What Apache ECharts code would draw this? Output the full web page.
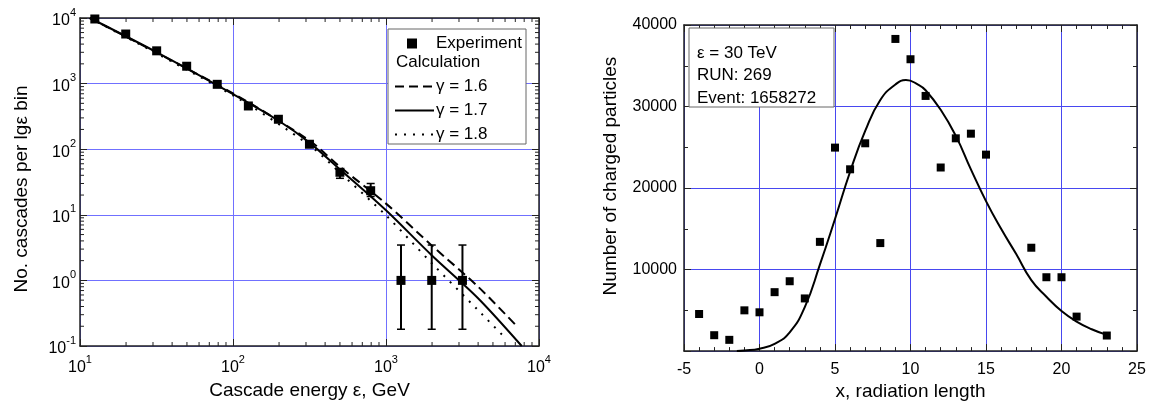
<!DOCTYPE html>
<html>
<head>
<meta charset="utf-8">
<script src="https://cdn.jsdelivr.net/npm/echarts@6/dist/echarts.min.js"></script>
<style>
  html, body { margin: 0; padding: 0; background: #fff; }
  #chart { width: 1152px; height: 406px; }
</style>
</head>
<body>
<div id="chart"></div>
<script>
// left panel: energy spectrum
var expE = [12.5, 19.9, 31.7, 49.8, 78.9, 126, 198, 316, 500, 794, 1253, 1990, 3160];
var expN = [9660, 5700, 3160, 1840, 975, 456, 286, 119, 44.5, 23.3, 1, 1, 1];
var errE = [500, 794, 1253, 1990, 3160];
var errLow = [36, 19, 0.18, 0.18, 0.18];
var errHigh = [49, 30, 3.46, 3.46, 3.46];

var g16E = [11.6, 100, 316, 501, 1000, 1995, 3981, 7244];
var g16N = [10000, 708, 135, 53.7, 14.8, 3.39, 0.81, 0.195];
var g17E = [11.6, 31.6, 100, 200, 316, 501, 1000, 1995, 3981, 7710];
var g17N = [10000, 3020, 692, 269, 126, 49, 11.7, 2.4, 0.54, 0.1];
var g18E = [11.6, 100, 316, 501, 1000, 1995, 3981, 6026];
var g18N = [10000, 661, 115, 43.7, 9.8, 1.82, 0.355, 0.132];

// right panel: longitudinal profile
var xRad = [-4, -3, -2, -1, 0, 1, 2, 3, 4, 5, 6, 7, 8, 9, 10, 11, 12, 13, 14, 15, 18, 19, 20, 21, 23];
var nCharged = [4550, 1950, 1380, 5000, 4760, 7230, 8570, 6460, 13400, 24960, 22300, 25490, 13250,
                38290, 35800, 31300, 22520, 26100, 26670, 24100, 12680, 9060, 9060, 4230, 1910];
var fitX = [-1.5, -1, 0, 1, 2, 3, 4, 5, 6, 7, 8, 9, 9.7, 10.5, 11, 12, 13, 14, 15, 16, 17, 18, 19, 20, 21, 22, 23];
var fitN = [0, 60, 300, 900, 2300, 5400, 10600, 16200, 22000, 27000, 30800, 32700, 33250, 32700,
            32000, 29600, 26400, 22300, 18400, 15000, 11900, 8700, 6670, 4920, 3620, 2680, 1990];

var FONT = 'Liberation Sans, Arial, sans-serif';
var BLUE_L = '#7070ff';
var BLUE_R = '#4848f0';
var AXIS_C = '#222';

function pairs(a, b) {
    return a.map(function (v, i) { return [v, b[i]]; });
}

// minor ticks 2..9 of every decade for the log axes
function decadeTicks(lo, hi) {
    var out = [];
    for (var p = lo; p < hi; p++) {
        for (var k = 2; k <= 9; k++) out.push(k * Math.pow(10, p));
    }
    return out;
}
var minorX = decadeTicks(1, 4);
var minorY = decadeTicks(-1, 4);

function powLabel(v) {
    var e = Math.round(Math.log10(v));
    return '{b|10}{s|' + e + '}';
}
var powRich = {
    b: { fontSize: 16, fontFamily: FONT, color: '#000', lineHeight: 22, verticalAlign: 'bottom' },
    s: { fontSize: 11, fontFamily: FONT, color: '#000', lineHeight: 12, verticalAlign: 'top' }
};

function tickLine(x1, y1, x2, y2) {
    return { type: 'line', shape: { x1: x1, y1: y1, x2: x2, y2: y2 }, style: { stroke: AXIS_C, lineWidth: 1 } };
}

var axisLine = { show: true, onZero: false, lineStyle: { color: AXIS_C, width: 1.5 } };

var myChart = echarts.init(document.getElementById('chart'));
myChart.setOption({
    animation: false,
    textStyle: { fontFamily: FONT },
    grid: [
        { left: 80, top: 18, width: 459, height: 328 },
        { left: 684, top: 25, width: 453, height: 328 }
    ],
    legend: [
        {
            data: ['Experiment'], left: 407, top: 35, orient: 'vertical', padding: 0,
            itemWidth: 10, itemHeight: 10, icon: 'rect', z: 12,
            itemStyle: { color: '#000', opacity: 1 },
            textStyle: { fontSize: 17, color: '#000', fontFamily: FONT, padding: [0, 0, 0, 14] }
        },
        {
            data: ['γ = 1.6', 'γ = 1.7', 'γ = 1.8'], left: 394, top: 78, orient: 'vertical', padding: 0,
            itemWidth: 39, itemHeight: 10, itemGap: 7, z: 12,
            itemStyle: { opacity: 0 },
            textStyle: { fontSize: 17, color: '#000', fontFamily: FONT, padding: [0, 0, 0, -3] }
        }
    ],
    graphic: [
        { type: 'rect', z: 10, shape: { x: 388, y: 29, width: 138, height: 115 },
          style: { fill: '#fff', stroke: '#666', lineWidth: 1 } },
        { type: 'text', z: 12, left: 396, top: 54,
          style: { text: 'Calculation', fontSize: 17, fontFamily: FONT, fill: '#000' } },
        { type: 'rect', z: 10, shape: { x: 689, y: 28, width: 145, height: 79 },
          style: { fill: '#fff', stroke: '#666', lineWidth: 1 } },
        { type: 'text', z: 12, left: 697, top: 42,
          style: { text: 'ε = 30 TeV\nRUN: 269\nEvent: 1658272', fontSize: 17, lineHeight: 22.5,
                   fontFamily: FONT, fill: '#000' } }
    ],
    xAxis: [
        {
            type: 'log', gridIndex: 0, min: 10, max: 10000, logBase: 10,
            name: 'Cascade energy ε, GeV', nameLocation: 'middle', nameGap: 35,
            nameTextStyle: { fontSize: 19, color: '#000', fontFamily: FONT },
            axisLine: axisLine,
            axisTick: { inside: true, length: 7, lineStyle: { color: AXIS_C } },
            axisLabel: { formatter: powLabel, rich: powRich, margin: 8 },
            splitLine: { show: true, lineStyle: { color: BLUE_L, width: 1 } }
        },
        {
            type: 'log', gridIndex: 0, min: 10, max: 10000, logBase: 10, position: 'top',
            axisLine: axisLine,
            axisTick: { inside: true, length: 7, lineStyle: { color: AXIS_C } },
            axisLabel: { show: false }, splitLine: { show: false }
        },
        {
            type: 'value', gridIndex: 1, min: -5, max: 25, interval: 5,
            name: 'x, radiation length', nameLocation: 'middle', nameGap: 29,
            nameTextStyle: { fontSize: 19, color: '#000', fontFamily: FONT },
            axisLine: axisLine,
            axisTick: { inside: true, length: 7, lineStyle: { color: AXIS_C } },
            minorTick: { show: true, splitNumber: 5, length: 4, lineStyle: { color: AXIS_C } },
            axisLabel: { fontSize: 16, color: '#000', margin: 10 },
            splitLine: { show: true, lineStyle: { color: BLUE_R, width: 1 } }
        },
        {
            type: 'value', gridIndex: 1, min: -5, max: 25, interval: 5, position: 'top',
            axisLine: axisLine,
            axisTick: { inside: true, length: 7, lineStyle: { color: AXIS_C } },
            minorTick: { show: true, splitNumber: 5, length: 4, lineStyle: { color: AXIS_C } },
            axisLabel: { show: false }, splitLine: { show: false }
        }
    ],
    yAxis: [
        {
            type: 'log', gridIndex: 0, min: 0.1, max: 10000, logBase: 10,
            name: 'No. cascades per lgε bin', nameLocation: 'middle', nameGap: 49,
            nameTextStyle: { fontSize: 19, color: '#000', fontFamily: FONT, padding: [0, 14, 0, 0] },
            axisLine: axisLine,
            axisTick: { inside: true, length: 7, lineStyle: { color: AXIS_C } },
            axisLabel: { formatter: powLabel, rich: powRich, margin: 4 },
            splitLine: { show: true, lineStyle: { color: BLUE_L, width: 1 } }
        },
        {
            type: 'log', gridIndex: 0, min: 0.1, max: 10000, logBase: 10, position: 'right',
            axisLine: axisLine,
            axisTick: { inside: true, length: 7, lineStyle: { color: AXIS_C } },
            axisLabel: { show: false }, splitLine: { show: false }
        },
        {
            type: 'value', gridIndex: 1, min: 0, max: 40000, interval: 10000,
            name: 'Number of charged particles', nameLocation: 'middle', nameGap: 64,
            nameTextStyle: { fontSize: 19, color: '#000', fontFamily: FONT, padding: [0, 0, 0, 24] },
            axisLine: axisLine,
            axisTick: { inside: true, length: 7, lineStyle: { color: AXIS_C } },
            minorTick: { show: true, splitNumber: 2, length: 4, lineStyle: { color: AXIS_C } },
            axisLabel: { fontSize: 16, color: '#000', margin: 7,
                         formatter: function (v) { return v === 0 ? '' : v; } },
            splitLine: { show: true, lineStyle: { color: BLUE_R, width: 1 } }
        },
        {
            type: 'value', gridIndex: 1, min: 0, max: 40000, interval: 10000, position: 'right',
            axisLine: axisLine,
            axisTick: { inside: true, length: 7, lineStyle: { color: AXIS_C } },
            minorTick: { show: true, splitNumber: 2, length: 4, lineStyle: { color: AXIS_C } },
            axisLabel: { show: false }, splitLine: { show: false }
        }
    ],
    series: [
        {
            name: 'γ = 1.6', type: 'line', xAxisIndex: 0, yAxisIndex: 0, smooth: 0.3,
            symbol: 'none', data: pairs(g16E, g16N),
            lineStyle: { color: '#000', width: 2, type: [9, 5] }, itemStyle: { color: '#000' }
        },
        {
            name: 'γ = 1.7', type: 'line', xAxisIndex: 0, yAxisIndex: 0, smooth: 0.3,
            symbol: 'none', data: pairs(g17E, g17N),
            lineStyle: { color: '#000', width: 2 }, itemStyle: { color: '#000' }
        },
        {
            name: 'γ = 1.8', type: 'line', xAxisIndex: 0, yAxisIndex: 0, smooth: 0.3,
            symbol: 'none', data: pairs(g18E, g18N),
            lineStyle: { color: '#000', width: 2, type: [2, 7] }, itemStyle: { color: '#000' }
        },
        {
            type: 'custom', xAxisIndex: 0, yAxisIndex: 0, clip: false, z: 3,
            data: errE.map(function (e, i) { return [e, errLow[i], errHigh[i]]; }),
            encode: { x: 0, y: [1, 2] },
            renderItem: function (params, api) {
                var top = api.coord([api.value(0), api.value(2)]);
                var bot = api.coord([api.value(0), api.value(1)]);
                return {
                    type: 'group',
                    children: [
                        { type: 'line', shape: { x1: top[0], y1: top[1], x2: bot[0], y2: bot[1] },
                          style: { stroke: '#000', lineWidth: 2 } },
                        { type: 'line', shape: { x1: top[0] - 4, y1: top[1], x2: top[0] + 4, y2: top[1] },
                          style: { stroke: '#000', lineWidth: 1.5 } },
                        { type: 'line', shape: { x1: bot[0] - 4, y1: bot[1], x2: bot[0] + 4, y2: bot[1] },
                          style: { stroke: '#000', lineWidth: 1.5 } }
                    ]
                };
            }
        },
        {
            name: 'Experiment', type: 'scatter', xAxisIndex: 0, yAxisIndex: 0, z: 4,
            symbol: 'rect', symbolSize: 9, data: pairs(expE, expN),
            itemStyle: { color: '#000', opacity: 1 }
        },
        {
            // minor ticks on the log x axes (bottom and top)
            type: 'custom', xAxisIndex: 0, yAxisIndex: 0, clip: false, silent: true,
            data: minorX.map(function (v) { return [v, 1]; }),
            renderItem: function (params, api) {
                var p = api.coord([api.value(0), 1]);
                var cs = params.coordSys;
                return { type: 'group', children: [
                    tickLine(p[0], cs.y + cs.height, p[0], cs.y + cs.height - 4),
                    tickLine(p[0], cs.y, p[0], cs.y + 4)
                ] };
            }
        },
        {
            // minor ticks on the log y axes (left and right)
            type: 'custom', xAxisIndex: 0, yAxisIndex: 0, clip: false, silent: true,
            data: minorY.map(function (v) { return [100, v]; }),
            renderItem: function (params, api) {
                var p = api.coord([100, api.value(1)]);
                var cs = params.coordSys;
                return { type: 'group', children: [
                    tickLine(cs.x, p[1], cs.x + 4, p[1]),
                    tickLine(cs.x + cs.width, p[1], cs.x + cs.width - 4, p[1])
                ] };
            }
        },
        {
            name: 'fit', type: 'line', xAxisIndex: 2, yAxisIndex: 2, smooth: 0.5,
            symbol: 'none', data: pairs(fitX, fitN),
            lineStyle: { color: '#000', width: 2 }
        },
        {
            name: 'profile', type: 'scatter', xAxisIndex: 2, yAxisIndex: 2, z: 4,
            symbol: 'rect', symbolSize: 8, data: pairs(xRad, nCharged),
            itemStyle: { color: '#000', opacity: 1 }
        }
    ]
});
</script>
</body>
</html>
